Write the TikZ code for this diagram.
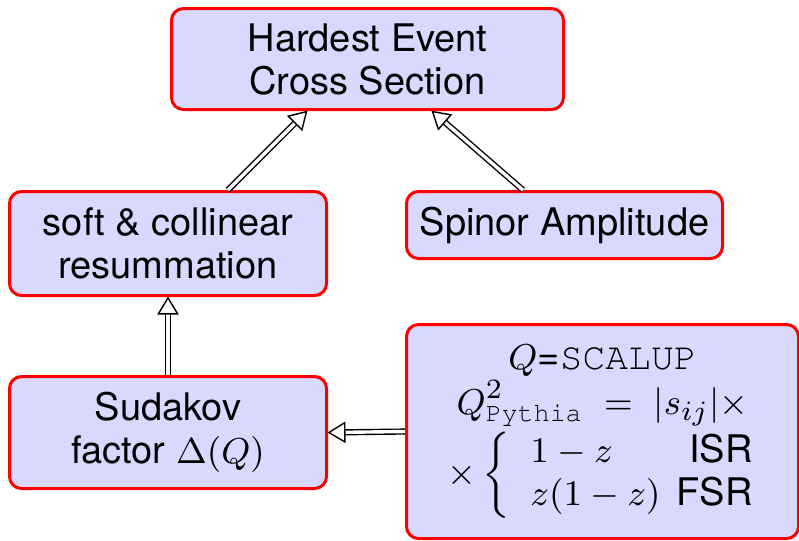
\documentclass[tikz,border=0pt]{standalone}
\usepackage{amsmath}
\usepackage{fontspec}
\setmainfont{TeX Gyre Heros}
\usetikzlibrary{decorations.markings}
% Courier for code-like names
\newcommand\cour[1]{{\fontencoding{T1}\fontfamily{pcr}\selectfont #1}}
\begin{document}
\begin{tikzpicture}[x=0.25pt,y=-0.25pt,
  box/.style={draw=red, fill=blue!15, line width=0.75pt, rounded corners=3pt,
    inner sep=0pt, align=center, font=\fontsize{9.5}{10.75}\selectfont},
  % hollow double-line arrow with an open triangular head
  dbl/.style={
    preaction={draw=black, double=white, double distance=0.85pt,
      line width=0.35pt, shorten >=3.6pt},
    postaction={decorate, decoration={markings, mark=at position 1 with {
      \draw[black, fill=white, line width=0.35pt, line join=miter]
        (-0.2pt,0) -- (-4.2pt,2.4pt) -- (-4.2pt,-2.4pt) -- cycle;}}}}]
\useasboundingbox (0,0) rectangle (799,540);
% boxes
\node[box, minimum width=98pt, minimum height=25.25pt] (tb) at (367.5,59)
  {Hardest Event\\Cross Section};
\node[box, minimum width=79.25pt, minimum height=26pt] (lm) at (168,243.5)
  {soft \& collinear\\resummation};
\node[box, minimum width=79pt, minimum height=16.75pt] (rm) at (564.5,225)
  {Spinor Amplitude};
\node[box, minimum width=79.25pt, minimum height=28pt] (bl) at (168,432.5)
  {Sudakov\\factor $\Delta(Q)$};
\node[box, minimum width=98pt, minimum height=53.5pt] (br) at (602.5,431.5)
  {$Q$=\cour{SCALUP}\\[0.5pt]
   $Q^2_{\text{\cour{Pythia}}}\;=\;|s_{ij}|\times$\\[0.5pt]
   $\times\left\{\begin{array}{l@{\hspace{4pt}}r@{}}
     1-z & \text{ISR}\\ z(1-z) & \text{FSR}\end{array}\right.$};
% connectors
\path[dbl] ([xshift=15pt]lm.north) -- ([xshift=-15.1pt]tb.south);
\path[dbl] ([xshift=-10.4pt]rm.north) -- ([xshift=16.1pt]tb.south);
\path[dbl] (bl.north) -- (lm.south);
\path[dbl] (br.west) -- (bl.east);
\end{tikzpicture}
\end{document}
